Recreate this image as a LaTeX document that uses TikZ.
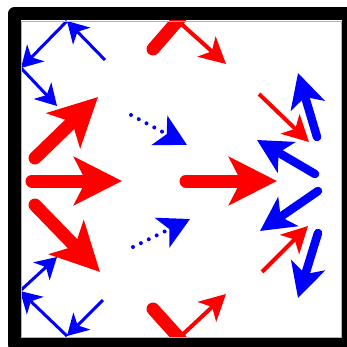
\documentclass[tikz,border=0pt]{standalone}
\usepackage{tikz}
\usetikzlibrary{arrows.meta}

\begin{document}
\begin{tikzpicture}[x=1pt,y=-1pt,
    thinblue/.style={blue, line width=3pt, -{Stealth[length=21pt,width=24pt,inset=6pt]}},
    thinred/.style={red, line width=4pt, -{Stealth[length=26pt,width=27pt,inset=7pt]}},
    thickred/.style={red, line width=13pt, line cap=round, -{Stealth[length=48pt,width=48pt,inset=12pt]}},
    thickblue/.style={blue, line width=8.5pt, line cap=round, -{Stealth[length=34pt,width=35pt,inset=9pt]}},
    dotblue/.style={blue, line width=4pt, line cap=round, dash pattern=on 0pt off 8.8pt,
      -{Stealth[length=31pt,width=33pt,inset=8pt]}},
    beam/.style={red, line width=13pt, line cap=round}]
    \useasboundingbox (0,0) rectangle (346,347);
    % corner reflections, left
    \coordinate (a1) at (105,60);  \coordinate (a2) at (67,21);
    \coordinate (a3) at (21,68);   \coordinate (a4) at (57,106);
    \coordinate (b1) at (103,300); \coordinate (b2) at (67,336);
    \coordinate (b3) at (20,291);  \coordinate (b4) at (57,257);
    \foreach \p/\q in {a1/a2,a2/a3,a3/a4,b1/b2,b2/b3,b3/b4}
      \draw[thinblue] (\p) -- (\q);
    % big red arrows
    \coordinate (ls1) at (35,158);  \coordinate (lt1) at (98,97);
    \coordinate (ls2) at (32,181);  \coordinate (lt2) at (122,181);
    \coordinate (ls3) at (35,205);  \coordinate (lt3) at (100,272);
    \coordinate (ms) at (186,181);  \coordinate (mt) at (277,181);
    \foreach \s/\t in {ls1/lt1,ls2/lt2,ls3/lt3,ms/mt}
      \draw[thickred] (\s) -- (\t);
    % dotted
    \coordinate (d1) at (131,115); \coordinate (e1) at (187,145);
    \coordinate (d2) at (133,247); \coordinate (e2) at (190,219);
    \draw[dotblue] (d1) -- (e1);
    \draw[dotblue] (d2) -- (e2);
    % top and bottom bounces
    \coordinate (tb) at (153,49);  \coordinate (tv) at (180,18);  \coordinate (tt) at (226,64);
    \coordinate (bb) at (153,309); \coordinate (bv) at (181,340); \coordinate (bt) at (226,294);
    \draw[beam] (tb) -- (tv);
    \draw[beam] (bb) -- (bv);
    \draw[thinred] (178,21) coordinate (tv') -- (tt);
    \draw[thinred] (180,337) coordinate (bv') -- (bt);
    % right group
    \coordinate (r1) at (259,94);  \coordinate (q1) at (309,142);
    \coordinate (r2) at (262,272); \coordinate (q2) at (308,226);
    \draw[thinred] (r1) -- (q1);
    \draw[thinred] (r2) -- (q2);
    \coordinate (u1) at (317,137); \coordinate (v1) at (298,73);
    \coordinate (u2) at (315,174); \coordinate (v2) at (257,140);
    \coordinate (u3) at (318,191); \coordinate (v3) at (260,231);
    \coordinate (u4) at (318,233); \coordinate (v4) at (298,298);
    \foreach \s/\t in {u1/v1,u2/v2,u3/v3,u4/v4}
      \draw[thickblue] (\s) -- (\t);
    % frame
    \draw[gray!60, line width=1pt] (21.2,21.2) rectangle (341.2,337.4);
    \draw[line width=13pt, line join=round] (14.3,13.9) rectangle (348.2,344.4);
\end{tikzpicture}
\end{document}
